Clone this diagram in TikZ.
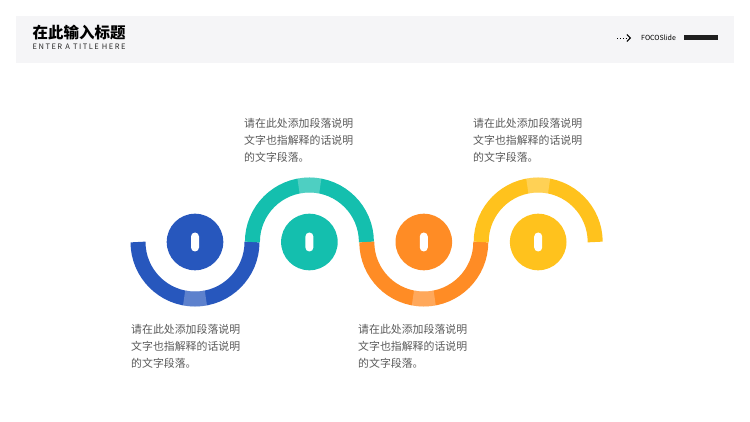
\documentclass[tikz,border=0pt]{standalone}
\usepackage{fontspec}
\setmainfont{Noto Sans CJK SC}
\newfontfamily\spacedfont{Noto Sans CJK SC}[LetterSpace=20]
\usetikzlibrary{positioning,arrows.meta}

\definecolor{bandgray}{HTML}{F5F5F7}
\definecolor{textgray}{HTML}{595959}
\definecolor{waveblue}{HTML}{2757BD}
\definecolor{waveteal}{HTML}{14BFAE}
\definecolor{waveorange}{HTML}{FF8C25}
\definecolor{waveyellow}{HTML}{FFC21D}

\tikzset{
  dot/.style={circle, minimum size=56.6pt, inner sep=0pt},
  keyhole/.style={fill=white, rounded corners=4pt, minimum width=8pt, minimum height=19pt, inner sep=0pt},
  wave/.style={line width=15pt},
  shine/.style={line width=15pt, white, opacity=0.25},
  para/.style={anchor=north west, inner sep=0pt, align=left, text=textgray,
    font=\fontsize{10.9pt}{17pt}\selectfont}
}

\begin{document}
\begin{tikzpicture}[x=1pt,y=1pt]

\useasboundingbox (0,0) rectangle (750,-422);

% header band
\fill[bandgray] (16,-16) rectangle (734,-63);
\node[anchor=west, inner sep=0pt, font=\fontsize{15.5pt}{15.5pt}\selectfont\bfseries] (title) at (32.5,-33) {在此输入标题};
\node[anchor=west, inner sep=0pt, font=\fontsize{7.5pt}{7.5pt}\spacedfont, text=black!85] (subtitle) at (32.5,-47) {ENTER A TITLE HERE};

\coordinate (arrowstart) at (617,-38);
\coordinate (arrowend) at (631,-38);
\draw[dotted, line width=0.9pt, -{Straight Barb[length=3.5pt, width=7pt]}] (arrowstart) -- (arrowend);
\node[anchor=west, inner sep=0pt, font=\fontsize{7pt}{7pt}\selectfont] (brand) at (641,-38) {FOCOSlide};
\fill[black!88] (684,-35.5) rectangle (718,-40.5);

% circles
\node[dot, fill=waveblue] (c1) at (195,-242) {};
\node[dot, fill=waveteal, right=57.4pt of c1] (c2) {};
\node[dot, fill=waveorange, right=57.4pt of c2] (c3) {};
\node[dot, fill=waveyellow, right=57.4pt of c3] (c4) {};

\node[keyhole] (k1) at (c1) {};
\node[keyhole] (k2) at (c2) {};
\node[keyhole] (k3) at (c3) {};
\node[keyhole] (k4) at (c4) {};

% wave
\draw[wave, waveblue] (c1.center) ++(-57pt,0) arc[start angle=180, end angle=360, radius=57pt];
\draw[wave, waveteal] (c2.center) ++(-57pt,0) arc[start angle=180, end angle=0, radius=57pt];
\draw[wave, waveorange] (c3.center) ++(-57pt,0) arc[start angle=180, end angle=360, radius=57pt];
\draw[wave, waveyellow] (c4.center) ++(-57pt,0) arc[start angle=180, end angle=0, radius=57pt];

\draw[shine] (c1.center) ++(259:57pt) arc[start angle=259, end angle=281, radius=57pt];
\draw[shine] (c2.center) ++(79:57pt) arc[start angle=79, end angle=101, radius=57pt];
\draw[shine] (c3.center) ++(259:57pt) arc[start angle=259, end angle=281, radius=57pt];
\draw[shine] (c4.center) ++(79:57pt) arc[start angle=79, end angle=101, radius=57pt];

% texts
\node[para] (t2) at (244,-118.5) {请在此处添加段落说明\\文字也指解释的话说明\\的文字段落。};
\node[para] (t4) at (473,-118.5) {请在此处添加段落说明\\文字也指解释的话说明\\的文字段落。};
\node[para] (t1) at (131,-324) {请在此处添加段落说明\\文字也指解释的话说明\\的文字段落。};
\node[para] (t3) at (358,-324) {请在此处添加段落说明\\文字也指解释的话说明\\的文字段落。};

\end{tikzpicture}
\end{document}
